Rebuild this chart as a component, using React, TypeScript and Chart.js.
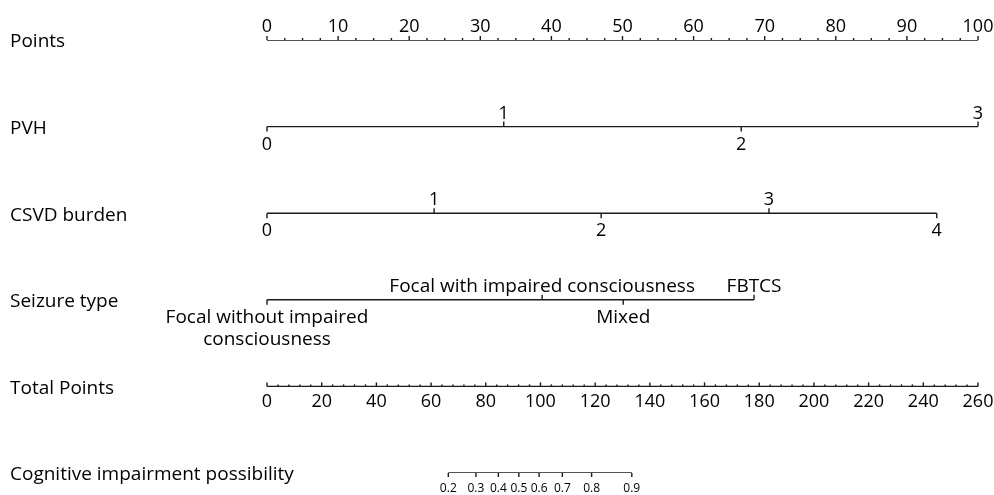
import React, { useEffect, useRef } from "react";
import { Chart, registerables } from "chart.js";

Chart.register(...registerables);

// ---- data ----
const rowLabels = [
  "Points",
  "PVH",
  "CSVD burden",
  "Seizure type",
  "Total Points",
  "Cognitive impairment possibility",
];
const pointsTicks = [0, 10, 20, 30, 40, 50, 60, 70, 80, 90, 100];
const pointsMinorStep = 2.5;

const pvhLabels = ["0", "1", "2", "3"];
const pvhPoints = [0, 33.3, 66.7, 100];

const csvdLabels = ["0", "1", "2", "3", "4"];
const csvdPoints = [0, 23.5, 47.0, 70.6, 94.2];

const seizureLabels = [
  "Focal without impaired\nconsciousness",
  "Focal with impaired consciousness",
  "Mixed",
  "FBTCS",
];
const seizurePoints = [0, 38.7, 50.1, 68.5];
const seizureSide = ["below", "above", "below", "above"];

const totalTicks = [0, 20, 40, 60, 80, 100, 120, 140, 160, 180, 200, 220, 240, 260];
const totalMinorStep = 4;

const probLabels = ["0.2", "0.3", "0.4", "0.5", "0.6", "0.7", "0.8", "0.9"];
const probTotals = [66.3, 76.4, 84.6, 92.1, 99.5, 108.0, 118.7, 133.4];

const FONT = '"Open Sans", sans-serif';
const INK = "#1a1a1a";

const nomogramPlugin = {
  id: "nomogram",
  afterDatasetsDraw(chart: any) {
    const ctx = chart.ctx;
    const x = chart.scales.x;
    const xt = chart.scales.xt;
    const y = chart.scales.y;
    const rowY = (i: number) => y.getPixelForValue(i);
    ctx.save();
    ctx.strokeStyle = INK;
    ctx.fillStyle = "#000";
    ctx.lineWidth = 1.4;

    const tick = (px: number, py: number, len: number) => {
      ctx.beginPath();
      ctx.moveTo(px, py);
      ctx.lineTo(px, py + len);
      ctx.stroke();
    };

    // row labels
    ctx.font = `19px ${FONT}`;
    ctx.textAlign = "left";
    ctx.textBaseline = "middle";
    rowLabels.forEach((l, i) => ctx.fillText(l, 10, rowY(i) + 2));

    // Points axis
    ctx.font = `18px ${FONT}`;
    ctx.textAlign = "center";
    ctx.textBaseline = "alphabetic";
    const y0 = rowY(0);
    for (let v = 0; v <= 100 + 1e-9; v += pointsMinorStep) {
      const major = pointsTicks.includes(v);
      tick(x.getPixelForValue(v), y0, major ? -4 : -2);
    }
    pointsTicks.forEach((v) => ctx.fillText(String(v), x.getPixelForValue(v), y0 - 8));

    // alternating variable axes
    const altAxis = (row: number, labels: string[], pts: number[], sides?: string[], font?: string) => {
      const yy = rowY(row);
      ctx.font = font || `18px ${FONT}`;
      labels.forEach((lab, i) => {
        const side = sides ? sides[i] : i % 2 === 0 ? "below" : "above";
        const px = x.getPixelForValue(pts[i]);
        tick(px, yy, side === "below" ? 5 : -5);
        const lines = lab.split("\n");
        lines.forEach((ln, k) => {
          const ty = side === "below" ? yy + 23 + k * 22 : yy - 8;
          ctx.fillText(ln, px, ty);
        });
      });
    };
    altAxis(1, pvhLabels, pvhPoints);
    altAxis(2, csvdLabels, csvdPoints);
    altAxis(3, seizureLabels, seizurePoints, seizureSide, `19px ${FONT}`);

    // Total points axis
    ctx.font = `18px ${FONT}`;
    const y4 = rowY(4);
    for (let v = 0; v <= 260 + 1e-9; v += totalMinorStep) {
      const major = totalTicks.includes(v);
      if (!major) tick(xt.getPixelForValue(v), y4, -2);
    }
    totalTicks.forEach((v) => {
      tick(xt.getPixelForValue(v), y4, -4);
      ctx.fillText(String(v), xt.getPixelForValue(v), y4 + 21);
    });

    // Probability axis
    const y5 = rowY(5);
    ctx.font = `12px ${FONT}`;
    probLabels.forEach((lab, i) => {
      const px = xt.getPixelForValue(probTotals[i]);
      tick(px, y5, 4);
      ctx.fillText(lab, px, y5 + 19);
    });
    ctx.restore();
  },
};

export default function App() {
  const ref = useRef<HTMLCanvasElement | null>(null);
  useEffect(() => {
    if (!ref.current) return;
    const line = (row: number, xMin: number, xMax: number, axisID: string) => ({
      data: [
        { x: xMin, y: row },
        { x: xMax, y: row },
      ],
      xAxisID: axisID,
      showLine: true,
      borderColor: INK,
      borderWidth: 1.4,
      pointRadius: 0,
    });
    const chart = new Chart(ref.current, {
      type: "scatter",
      data: {
        datasets: [
          line(0, pointsTicks[0], pointsTicks[pointsTicks.length - 1], "x"),
          line(1, pvhPoints[0], pvhPoints[pvhPoints.length - 1], "x"),
          line(2, csvdPoints[0], csvdPoints[csvdPoints.length - 1], "x"),
          line(3, seizurePoints[0], seizurePoints[seizurePoints.length - 1], "x"),
          line(4, totalTicks[0], totalTicks[totalTicks.length - 1], "xt"),
          line(5, probTotals[0], probTotals[probTotals.length - 1], "xt"),
        ],
      },
      options: {
        animation: false,
        responsive: true,
        maintainAspectRatio: false,
        layout: { padding: { left: 267, right: 16, top: 40, bottom: 22 } },
        plugins: { legend: { display: false }, tooltip: { enabled: false } },
        scales: {
          x: { type: "linear", min: 0, max: 100, display: false },
          xt: { type: "linear", axis: "x", position: "bottom", min: 0, max: 260, display: false },
          y: { type: "linear", min: 0, max: 5, reverse: true, display: false },
        },
      },
      plugins: [nomogramPlugin],
    });
    return () => chart.destroy();
  }, []);
  return (
    <div style={{ position: "absolute", left: 0, top: 0, width: 994, height: 495, background: "#fff" }}>
      <canvas ref={ref} />
    </div>
  );
}
